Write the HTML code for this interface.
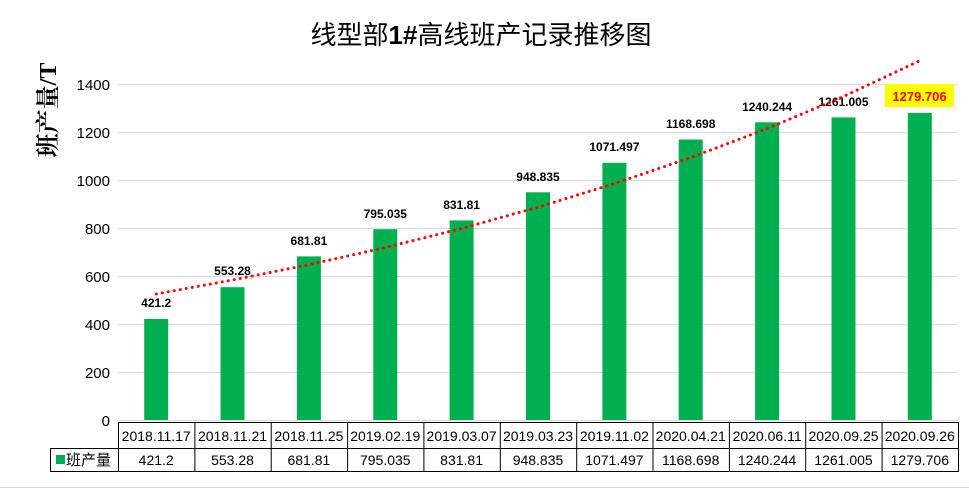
<!DOCTYPE html>
<html><head><meta charset="utf-8"><style>
html,body{margin:0;padding:0;background:#fff;}
svg{display:block;}
text{font-family:"Liberation Sans","Noto Sans CJK SC",sans-serif;}
</style></head><body>
<svg width="969" height="488" viewBox="0 0 969 488" xmlns="http://www.w3.org/2000/svg">
<rect width="969" height="488" fill="#fff"/>
<line x1="0" y1="487.5" x2="969" y2="487.5" stroke="#d9d9d9"/>
<text x="481" y="44" font-size="26" text-anchor="middle" fill="#000">线型部<tspan font-weight="bold">1#</tspan>高线班产记录推移图</text>
<text transform="translate(56,110) rotate(-90)" font-size="24" font-weight="bold" text-anchor="middle" style="font-family:'Liberation Serif','Noto Serif CJK SC',serif">班产量/T</text>
<g stroke="#d9d9d9" stroke-width="1">
<line x1="118" y1="84.5" x2="958" y2="84.5"/>
<line x1="118" y1="132.5" x2="958" y2="132.5"/>
<line x1="118" y1="180.5" x2="958" y2="180.5"/>
<line x1="118" y1="228.5" x2="958" y2="228.5"/>
<line x1="118" y1="276.5" x2="958" y2="276.5"/>
<line x1="118" y1="324.5" x2="958" y2="324.5"/>
<line x1="118" y1="372.5" x2="958" y2="372.5"/>
<line x1="118" y1="420.5" x2="958" y2="420.5"/>
</g>
<g font-size="15" text-anchor="end" fill="#000">
<text x="110" y="90">1400</text><text x="110" y="138">1200</text><text x="110" y="186">1000</text>
<text x="110" y="234">800</text><text x="110" y="282">600</text><text x="110" y="330">400</text>
<text x="110" y="378">200</text><text x="110" y="426">0</text>
</g>
<g fill="#00b050">
<rect x="144.2" y="318.9" width="24" height="101.1"/>
<rect x="220.5" y="287.2" width="24" height="132.8"/>
<rect x="296.9" y="256.4" width="24" height="163.6"/>
<rect x="373.3" y="229.2" width="24" height="190.8"/>
<rect x="449.6" y="220.4" width="24" height="199.6"/>
<rect x="526" y="192.3" width="24" height="227.7"/>
<rect x="602.4" y="162.8" width="24" height="257.2"/>
<rect x="678.7" y="139.5" width="24" height="280.5"/>
<rect x="755.1" y="122.3" width="24" height="297.7"/>
<rect x="831.5" y="117.4" width="24" height="302.6"/>
<rect x="907.8" y="112.9" width="24" height="307.1"/>
</g>
<g font-size="12" font-weight="bold" text-anchor="middle" fill="#000">
<text x="156.2" y="307">421.2</text>
<text x="232.5" y="275">553.28</text>
<text x="308.9" y="245">681.81</text>
<text x="385.3" y="218">795.035</text>
<text x="461.6" y="209">831.81</text>
<text x="538" y="181">948.835</text>
<text x="614.4" y="151">1071.497</text>
<text x="690.7" y="128">1168.698</text>
<text x="767.1" y="111">1240.244</text>
<text x="843.5" y="106">1261.005</text>
</g>
<rect x="885" y="84" width="69" height="23" fill="#ffff00"/>
<text x="919.5" y="101" font-size="13" font-weight="bold" fill="#ff0000" text-anchor="middle">1279.706</text>
<polyline fill="none" stroke="#ff0000" stroke-width="3" stroke-linecap="round" stroke-dasharray="0.1 6"
points="156.2,294 232.5,280 308.9,264.7 385.3,247.5 461.6,228.5 538,207.2 614.4,183.6 690.7,157.6 767.1,128.6 843.5,96.5 919.8,60.7"/>
<g stroke="#000" stroke-width="1" fill="none">
<line x1="118" y1="422.5" x2="959" y2="422.5"/>
<line x1="50" y1="448.5" x2="959" y2="448.5"/>
<line x1="50" y1="471.5" x2="959" y2="471.5"/>
<line x1="50.5" y1="448" x2="50.5" y2="472"/>
<line x1="118.5" y1="422" x2="118.5" y2="472"/>
<line x1="194.9" y1="422" x2="194.9" y2="472"/>
<line x1="271.2" y1="422" x2="271.2" y2="472"/>
<line x1="347.6" y1="422" x2="347.6" y2="472"/>
<line x1="423.9" y1="422" x2="423.9" y2="472"/>
<line x1="500.3" y1="422" x2="500.3" y2="472"/>
<line x1="576.7" y1="422" x2="576.7" y2="472"/>
<line x1="653" y1="422" x2="653" y2="472"/>
<line x1="729.4" y1="422" x2="729.4" y2="472"/>
<line x1="805.7" y1="422" x2="805.7" y2="472"/>
<line x1="882.1" y1="422" x2="882.1" y2="472"/>
<line x1="958.5" y1="422" x2="958.5" y2="472"/>
</g>
<g font-size="14" text-anchor="middle" fill="#000">
<text x="156.2" y="441">2018.11.17</text><text x="232.5" y="441">2018.11.21</text><text x="308.9" y="441">2018.11.25</text>
<text x="385.3" y="441">2019.02.19</text><text x="461.6" y="441">2019.03.07</text><text x="538" y="441">2019.03.23</text>
<text x="614.4" y="441">2019.11.02</text><text x="690.7" y="441">2020.04.21</text><text x="767.1" y="441">2020.06.11</text>
<text x="843.5" y="441">2020.09.25</text><text x="919.8" y="441">2020.09.26</text>
<text x="156.2" y="465">421.2</text><text x="232.5" y="465">553.28</text><text x="308.9" y="465">681.81</text>
<text x="385.3" y="465">795.035</text><text x="461.6" y="465">831.81</text><text x="538" y="465">948.835</text>
<text x="614.4" y="465">1071.497</text><text x="690.7" y="465">1168.698</text><text x="767.1" y="465">1240.244</text>
<text x="843.5" y="465">1261.005</text><text x="919.8" y="465">1279.706</text>
</g>
<rect x="56" y="455" width="9" height="9" fill="#00b050"/>
<text x="66" y="465" font-size="15" fill="#000">班产量</text>
</svg>
</body></html>
